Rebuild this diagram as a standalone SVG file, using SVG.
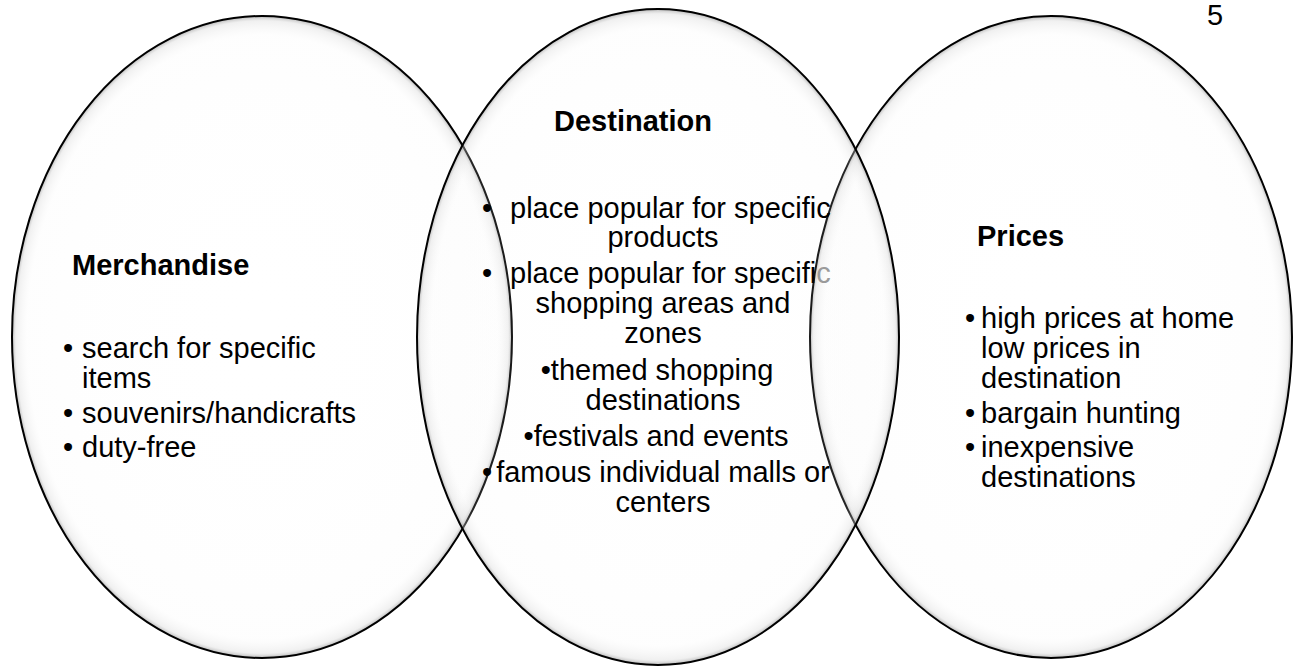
<svg xmlns="http://www.w3.org/2000/svg" width="1299" height="666" viewBox="0 0 1299 666">
  <style>
    text { font-family: "Liberation Sans", Arial, sans-serif; font-size: 29px; fill: #000; }
    .title { font-weight: bold; }
    .mid { text-anchor: middle; }
    .ring { fill: url(#shade); stroke: #000; stroke-width: 2; }
  </style>
  <defs>
    <radialGradient id="shade" cx="0.5" cy="0.5" r="0.5">
      <stop offset="0" stop-color="#ffffff" stop-opacity="0"/>
      <stop offset="0.94" stop-color="#f6f6f6" stop-opacity="0.15"/>
      <stop offset="0.985" stop-color="#d4d4d4" stop-opacity="0.35"/>
      <stop offset="1" stop-color="#888888" stop-opacity="0.6"/>
    </radialGradient>
  </defs>
  <rect width="1299" height="666" fill="#ffffff"/>
  <text x="1207" y="25">5</text>

  <g id="node-merchandise">
    <ellipse class="ring" cx="262" cy="337" rx="250" ry="321"/>
    <text class="title" x="72" y="275">Merchandise</text>
    <text x="63" y="358">•</text><text x="82" y="358">search for specific</text>
    <text x="82" y="388">items</text>
    <text x="63" y="423">•</text><text x="82" y="423">souvenirs/handicrafts</text>
    <text x="63" y="457">•</text><text x="82" y="457">duty-free</text>
  </g>

  <g id="node-prices">
    <ellipse class="ring" cx="1051" cy="337" rx="241" ry="321"/>
    <text class="title" x="977" y="246">Prices</text>
    <text x="965" y="328">•</text><text x="981" y="328">high prices at home</text>
    <text x="981" y="358">low prices in</text>
    <text x="981" y="388">destination</text>
    <text x="965" y="423">•</text><text x="981" y="423">bargain hunting</text>
    <text x="965" y="457">•</text><text x="981" y="457">inexpensive</text>
    <text x="981" y="487">destinations</text>
  </g>

  <g id="node-destination">
    <ellipse class="ring" cx="658" cy="337" rx="241" ry="328"/>
    <text class="title mid" x="633" y="131">Destination</text>
    <text x="482" y="218" fill="#a8a8a8">•</text>
    <text x="510" y="218">place popular for specific</text>
    <text class="mid" x="663" y="247">products</text>
    <text x="482" y="283" fill="#6a6a6a">•</text>
    <text x="510" y="283">place popular for specifi<tspan fill="#9a9a9a">c</tspan></text>
    <text class="mid" x="663" y="313">shopping areas and</text>
    <text class="mid" x="663" y="343">zones</text>
    <text class="mid" x="657" y="380">•themed shopping</text>
    <text class="mid" x="663" y="410">destinations</text>
    <text class="mid" x="656" y="446">•festivals and events</text>
    <text x="482" y="482" fill="#c4c4c4">•</text>
    <text class="mid" x="663" y="482">famous individual malls or</text>
    <text class="mid" x="663" y="512">centers</text>
  </g>
</svg>
